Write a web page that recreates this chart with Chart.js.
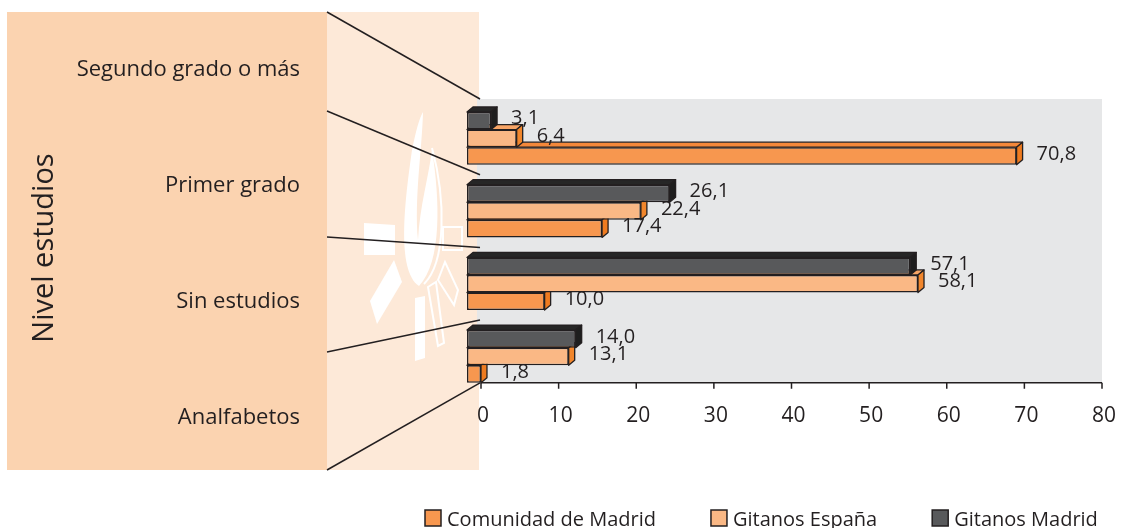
<!DOCTYPE html>
<html lang="es">
<head>
<meta charset="UTF-8">
<title>Nivel estudios</title>
<script src="https://cdn.jsdelivr.net/npm/chart.js"></script>
<style>
  body { margin: 0; background: #fff; }
  #wrap { width: 1122px; height: 528px; }
</style>
</head>
<body>
<div id="wrap"><canvas id="grafico" width="1122" height="528"></canvas></div>
<script>
// datos (categorias de arriba a abajo)
const categorias = ['Segundo grado o más', 'Primer grado', 'Sin estudios', 'Analfabetos'];
const comunidadMadrid = [70.8, 17.4, 10.0, 1.8];
const gitanosEspana = [6.4, 22.4, 58.1, 13.1];
const gitanosMadrid = [3.1, 26.1, 57.1, 14.0];
const ticksX = [0, 10, 20, 30, 40, 50, 60, 70, 80];
const tituloEje = 'Nivel estudios';

const fuente = '"Open Sans", "Noto Sans", sans-serif';
const tinta = '#231F20';
const DX = 6, DY = 5;       // profundidad de las barras
const desvioEje = 14;       // el eje va un poco detras de la cara frontal
// anclajes de las lineas del panel izquierdo (decoracion)
const anclasIzq = [12, 111, 237, 352, 470];

function formato(v) {
  return v.toFixed(1).replace('.', ',');
}

function baseEje(chart) {
  const meta = chart.getDatasetMeta(chart.data.datasets.length - 1);
  const ult = meta.data[meta.data.length - 1];
  return ult.y + ult.height / 2;
}

// logo blanco de fondo (marca de agua)
function marcaAgua(c) {
  c.save();
  c.fillStyle = '#fff';
  c.strokeStyle = '#fff';
  c.lineWidth = 2;
  // llama
  c.beginPath();
  c.moveTo(419, 286);
  c.bezierCurveTo(396, 270, 405, 200, 412, 150);
  c.quadraticCurveTo(418, 120, 423, 112);
  c.bezierCurveTo(422, 150, 414, 200, 418, 240);
  c.bezierCurveTo(420, 205, 428, 180, 432, 150);
  c.bezierCurveTo(440, 200, 442, 262, 419, 286);
  c.closePath();
  c.fill();
  c.beginPath();
  c.moveTo(432, 148);
  c.bezierCurveTo(446, 200, 446, 262, 424, 284);
  c.stroke();
  // rectangulo izquierdo
  c.beginPath();
  c.moveTo(364, 223);
  c.lineTo(395, 225);
  c.lineTo(395, 255);
  c.lineTo(364, 255);
  c.closePath();
  c.fill();
  // rayo inferior izquierdo
  c.beginPath();
  c.moveTo(394, 260);
  c.lineTo(402, 282);
  c.lineTo(377, 324);
  c.lineTo(370, 301);
  c.closePath();
  c.fill();
  // barra vertical
  c.beginPath();
  c.moveTo(415, 298);
  c.lineTo(425, 296);
  c.lineTo(425, 358);
  c.lineTo(415, 361);
  c.closePath();
  c.fill();
  // figuras huecas de la derecha
  c.strokeRect(443, 227, 19, 23);
  c.beginPath();
  c.moveTo(428, 287);
  c.lineTo(436, 282);
  c.lineTo(444, 343);
  c.lineTo(438, 346);
  c.closePath();
  c.stroke();
  c.beginPath();
  c.moveTo(438, 280);
  c.lineTo(445, 262);
  c.lineTo(458, 290);
  c.lineTo(454, 305);
  c.closePath();
  c.stroke();
  c.restore();
}

// panel izquierdo, fondo gris y lineas
const fondo = {
  id: 'fondo',
  beforeDraw(chart) {
    const c = chart.ctx, a = chart.chartArea, x = chart.scales.x;
    const ejeY = baseEje(chart);
    const derecha = x.getPixelForValue(80) + desvioEje;
    c.save();
    c.fillStyle = '#FBD3B0';
    c.fillRect(7, 12, 320, 458);
    c.fillStyle = '#FDE9D8';
    c.fillRect(327, 12, 152, 458);
    marcaAgua(c);
    c.fillStyle = '#E6E7E8';
    c.fillRect(a.left + 10, a.top - 3, derecha - a.left - 10, ejeY - a.top + 3);

    // etiquetas de categoria
    c.fillStyle = tinta;
    c.font = '22px ' + fuente;
    c.textAlign = 'right';
    c.textBaseline = 'alphabetic';
    categorias.forEach((t, k) => c.fillText(t, 300, 76 + 116.1 * k));

    // titulo vertical
    c.save();
    c.translate(53, 248);
    c.rotate(-Math.PI / 2);
    c.font = '29px ' + fuente;
    c.textAlign = 'center';
    c.fillText(tituloEje, 0, 0);
    c.restore();

    // lineas hacia el grafico
    const banda = (a.bottom - a.top) / categorias.length;
    const anclasDer = [a.top - 3];
    for (let k = 1; k < categorias.length; k++) anclasDer.push(a.top + banda * k);
    anclasDer.push(ejeY);
    c.strokeStyle = tinta;
    c.lineWidth = 1.5;
    anclasIzq.forEach((yi, k) => {
      c.beginPath();
      c.moveTo(327, yi);
      c.lineTo(480, anclasDer[k]);
      c.stroke();
    });
    c.restore();
  },
  beforeDatasetsDraw(chart) {
    const c = chart.ctx, a = chart.chartArea, x = chart.scales.x;
    const ejeY = baseEje(chart);
    c.save();
    c.strokeStyle = tinta;
    c.lineWidth = 1.5;
    c.beginPath();
    c.moveTo(a.left + desvioEje, ejeY);
    c.lineTo(x.getPixelForValue(80) + desvioEje, ejeY);
    x.ticks.forEach(t => {
      const px = x.getPixelForValue(t.value) + desvioEje;
      c.moveTo(px, ejeY);
      c.lineTo(px, ejeY + 6);
    });
    c.stroke();
    c.restore();
  }
};

// caras superior y lateral de cada barra
const efecto3d = {
  id: 'efecto3d',
  afterDatasetDraw(chart, args) {
    const c = chart.ctx;
    const ds = chart.data.datasets[args.index];
    c.save();
    c.strokeStyle = tinta;
    c.lineWidth = 1.3;
    c.lineJoin = 'round';
    args.meta.data.forEach(el => {
      const p = el.getProps(['x', 'y', 'base', 'height'], true);
      const top = p.y - p.height / 2, bot = p.y + p.height / 2;
      c.fillStyle = ds.techo;
      c.beginPath();
      c.moveTo(p.base, top);
      c.lineTo(p.base + DX, top - DY);
      c.lineTo(p.x + DX, top - DY);
      c.lineTo(p.x, top);
      c.closePath();
      c.fill();
      c.stroke();
      c.fillStyle = ds.lado;
      c.beginPath();
      c.moveTo(p.x, top);
      c.lineTo(p.x + DX, top - DY);
      c.lineTo(p.x + DX, bot - DY);
      c.lineTo(p.x, bot);
      c.closePath();
      c.fill();
      c.stroke();
    });
    c.restore();
  }
};

// valores al final de cada barra
const etiquetas = {
  id: 'etiquetas',
  afterDatasetsDraw(chart) {
    const c = chart.ctx;
    c.save();
    c.fillStyle = tinta;
    c.font = '20px ' + fuente;
    c.textAlign = 'left';
    c.textBaseline = 'middle';
    chart.data.datasets.forEach((ds, i) => {
      chart.getDatasetMeta(i).data.forEach((el, j) => {
        c.fillText(formato(ds.data[j]), el.x + 20, el.y - 2);
      });
    });
    c.restore();
  }
};

// leyenda abajo
const leyenda = {
  id: 'leyenda',
  afterDraw(chart) {
    const c = chart.ctx;
    const items = chart.data.datasets.slice().reverse();
    c.save();
    c.font = '20px ' + fuente;
    c.textBaseline = 'alphabetic';
    c.textAlign = 'left';
    let x = 425;
    items.forEach(ds => {
      c.fillStyle = ds.backgroundColor;
      c.fillRect(x, 510, 16, 16);
      c.strokeStyle = tinta;
      c.lineWidth = 1.5;
      c.strokeRect(x, 510, 16, 16);
      c.fillStyle = tinta;
      c.fillText(ds.label, x + 22, 526);
      x += 22 + c.measureText(ds.label).width + 55;
    });
    c.restore();
  }
};

const ctx = document.getElementById('grafico').getContext('2d');
const grafico = new Chart(ctx, {
  type: 'bar',
  data: {
    labels: categorias,
    datasets: [
      { label: 'Gitanos Madrid', data: gitanosMadrid, backgroundColor: '#58595B', techo: '#262626', lado: '#1E1E1E' },
      { label: 'Gitanos España', data: gitanosEspana, backgroundColor: '#FAB885', techo: '#F7A465', lado: '#F1862C' },
      { label: 'Comunidad de Madrid', data: comunidadMadrid, backgroundColor: '#F7974F', techo: '#F4883A', lado: '#EE7B20' }
    ]
  },
  options: {
    indexAxis: 'y',
    responsive: false,
    animation: false,
    layout: { padding: { left: 467, right: 34, top: 102, bottom: 96 } },
    datasets: {
      bar: {
        borderColor: tinta,
        borderWidth: 1.5,
        borderSkipped: false,
        categoryPercentage: 0.725,
        barPercentage: 1
      }
    },
    scales: {
      x: {
        min: 0,
        max: 80,
        grid: { display: false },
        border: { display: false },
        afterBuildTicks: s => { s.ticks = ticksX.map(v => ({ value: v })); },
        ticks: {
          color: tinta,
          font: { family: fuente, size: 21 },
          padding: 3,
          labelOffset: 16,
          maxRotation: 0
        }
      },
      y: { display: false }
    },
    plugins: {
      legend: { display: false },
      tooltip: { enabled: false }
    }
  },
  plugins: [fondo, efecto3d, etiquetas, leyenda]
});
</script>
</body>
</html>
